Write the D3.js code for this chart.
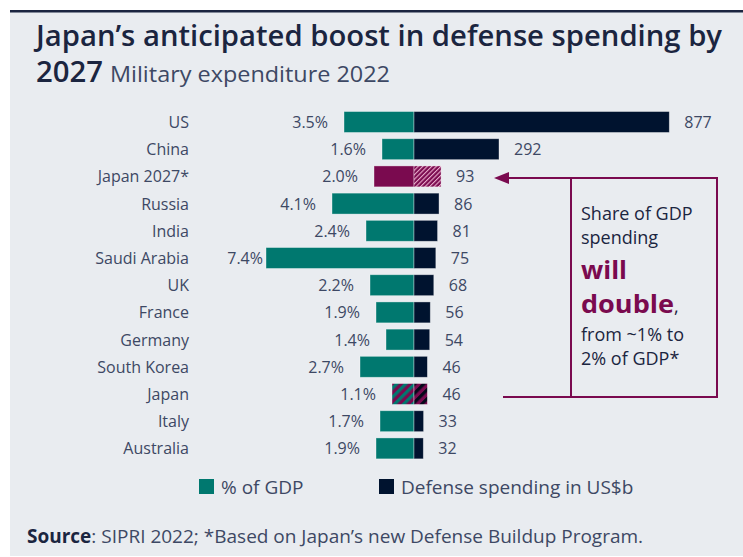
<!DOCTYPE html>
<html>
<head>
<meta charset="utf-8">
<script src="https://cdn.jsdelivr.net/npm/d3@7"></script>
<style>
  body { margin: 0; background: #fff; }
  text { font-family: "Open Sans", "Noto Sans", sans-serif; }
</style>
</head>
<body>
<svg width="743" height="557"></svg>
<script>
// данные
const countries = ["US", "China", "Japan 2027*", "Russia", "India", "Saudi Arabia", "UK",
                   "France", "Germany", "South Korea", "Japan", "Italy", "Australia"];
const gdpShare = [3.5, 1.6, 2.0, 4.1, 2.4, 7.4, 2.2, 1.9, 1.4, 2.7, 1.1, 1.7, 1.9];
const spending = [877, 292, 93, 86, 81, 75, 68, 56, 54, 46, 46, 33, 32];
const legendLabels = ["% of GDP", "Defense spending in US$b"];
const noteLines = ["Share of GDP", "spending", "will", "double", "from ~1% to", "2% of GDP*"];

const teal = "#00786f", navy = "#00132f", maroon = "#7a0a4f";
const ink = "#1b2540", grey = "#3d4864";

const svg = d3.select("svg");
const rows = countries.map((c, i) => ({name: c, gdp: gdpShare[i], spend: spending[i]}));

// фон и верхняя линия
svg.append("rect").attr("x", 10).attr("y", 10).attr("width", 733).attr("height", 546)
   .attr("fill", "#e9ecf0");
svg.append("rect").attr("x", 10).attr("y", 10).attr("width", 733).attr("height", 2.5)
   .attr("fill", ink);

// заголовок
svg.append("text").attr("x", 36).attr("y", 46)
   .attr("font-size", 28).attr("font-weight", 600).attr("fill", ink)
   .attr("textLength", 686).attr("lengthAdjust", "spacingAndGlyphs")
   .text("Japan\u2019s anticipated boost in defense spending by");
svg.append("text").attr("x", 36).attr("y", 82)
   .attr("font-size", 28).attr("font-weight", 600).attr("fill", ink)
   .attr("textLength", 67).attr("lengthAdjust", "spacingAndGlyphs").text("2027");
svg.append("text").attr("x", 110).attr("y", 82)
   .attr("font-size", 22).attr("fill", grey)
   .attr("textLength", 280).attr("lengthAdjust", "spacingAndGlyphs")
   .text("Military expenditure 2022");

// штриховки
const defs = svg.append("defs");
function hatch(id, bg, fg, size, lw) {
    const p = defs.append("pattern").attr("id", id).attr("patternUnits", "userSpaceOnUse")
        .attr("width", size).attr("height", size).attr("patternTransform", "rotate(45)");
    p.append("rect").attr("width", size).attr("height", size).attr("fill", bg);
    p.append("rect").attr("width", lw).attr("height", size).attr("fill", fg);
}
hatch("pinkHatch", maroon, "#e7a9c9", 3.2, 1.1);
hatch("tealHatch", maroon, teal, 6.4, 3.2);
hatch("navyHatch", maroon, "#05091a", 6.4, 3.2);

// шкалы
const y = d3.scaleBand().domain(countries).range([108.4, 462])
    .paddingInner(0.23).paddingOuter(0.115);
const xGdp = d3.scaleLinear().domain([0, 8]).range([414, 254]);
const xSpend = d3.scaleLinear().domain([0, 900]).range([414, 676]);

const leftFill = d => d.name === "Japan 2027*" ? maroon : d.name === "Japan" ? "url(#tealHatch)" : teal;
const rightFill = d => d.name === "Japan 2027*" ? "url(#pinkHatch)" : d.name === "Japan" ? "url(#navyHatch)" : navy;

const g = svg.append("g");
g.selectAll(".gdp").data(rows).join("rect").attr("class", "gdp")
  .attr("x", d => xGdp(d.gdp)).attr("y", d => y(d.name))
  .attr("width", d => xGdp(0) - xGdp(d.gdp)).attr("height", y.bandwidth())
  .attr("fill", leftFill).attr("stroke", "#ffffff").attr("stroke-opacity", 0.45).attr("stroke-width", 0.8);
g.selectAll(".spend").data(rows).join("rect").attr("class", "spend")
  .attr("x", xSpend(0)).attr("y", d => y(d.name))
  .attr("width", d => xSpend(d.spend) - xSpend(0)).attr("height", y.bandwidth())
  .attr("fill", rightFill).attr("stroke", "#ffffff").attr("stroke-opacity", 0.45).attr("stroke-width", 0.8);

const mid = d => y(d.name) + y.bandwidth() / 2 + 6;

g.selectAll(".cat").data(rows).join("text").attr("class", "cat")
  .attr("x", 189).attr("y", mid).attr("text-anchor", "end")
  .attr("font-size", 16).attr("fill", grey).text(d => d.name);
g.selectAll(".gdpLab").data(rows).join("text").attr("class", "gdpLab")
  .attr("x", d => xGdp(d.gdp) - (d.gdp > 7 ? 3 : 16)).attr("y", mid).attr("text-anchor", "end")
  .attr("font-size", 16).attr("fill", grey).text(d => d.gdp.toFixed(1) + "%");
g.selectAll(".spLab").data(rows).join("text").attr("class", "spLab")
  .attr("x", d => xSpend(d.spend) + 15).attr("y", mid)
  .attr("font-size", 16).attr("fill", grey).text(d => d.spend);

// аннотация
const yTop = y("Japan 2027*") + y.bandwidth() / 2 + 1.5;
const yBot = y("Japan") + y.bandwidth() / 2 + 3;
const ann = svg.append("g").attr("stroke", maroon).attr("stroke-width", 2).attr("fill", "none");
ann.append("path").attr("d", `M508,${yTop} H717 V${yBot} H503`);
ann.append("path").attr("d", `M571,${yTop} V${yBot}`);
svg.append("path").attr("d", `M494,${yTop} L509,${yTop - 6} L509,${yTop + 6} Z`).attr("fill", maroon);

const note = svg.append("g");
const noteY = [220, 244, 279, 313, 341, 365];
const noteLen = {2: 46, 3: 93};
noteLines.forEach((s, i) => {
    const big = i === 2 || i === 3;
    const t = note.append("text").attr("x", 581).attr("y", noteY[i])
        .attr("fill", big ? maroon : ink)
        .attr("font-size", big ? 25 : 18).attr("font-weight", big ? 700 : 400);
    if (big) {
        t.append("tspan").attr("textLength", noteLen[i]).attr("lengthAdjust", "spacingAndGlyphs").text(s);
        if (i === 3) t.append("tspan").attr("font-size", 18).attr("font-weight", 400).attr("fill", ink).text(",");
    } else {
        t.text(s);
    }
});

// легенда
const legX = [199, 379];
const legColors = [teal, navy];
legendLabels.forEach((s, i) => {
    svg.append("rect").attr("x", legX[i]).attr("y", 479).attr("width", 15).attr("height", 15)
       .attr("fill", legColors[i]);
    svg.append("text").attr("x", legX[i] + 22).attr("y", 494).attr("font-size", 19)
       .attr("fill", grey).text(s);
});

// источник
const src = svg.append("text").attr("x", 27).attr("y", 543).attr("font-size", 19).attr("fill", ink);
src.append("tspan").attr("font-weight", 700).text("Source");
src.append("tspan").attr("fill", grey).text(": SIPRI 2022; *Based on Japan\u2019s new Defense Buildup Program.");
</script>
</body>
</html>
